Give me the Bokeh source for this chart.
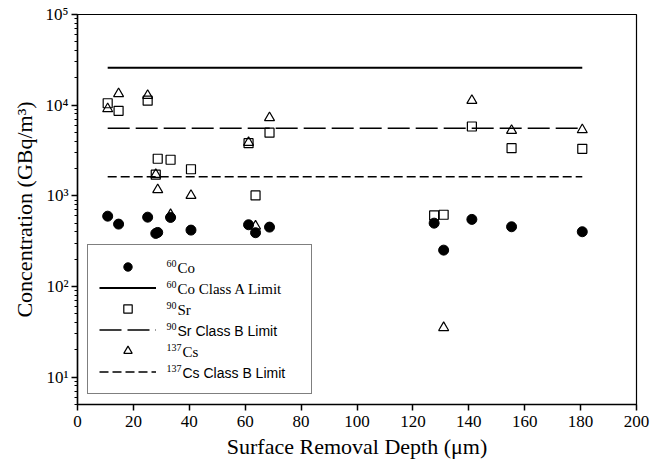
from bokeh.plotting import figure
from bokeh.models import (Range1d, FixedTicker, CustomJSTickFormatter, Legend, LegendItem, Label)
from bokeh.embed import file_html
from bokeh.resources import INLINE

# ---- data ----
co_depth = [10.8, 14.7, 25.1, 28.0, 28.7, 33.3, 40.6, 61.2, 63.7, 68.7, 127.6, 131.0, 141.1, 155.3, 180.6]
co_conc = [597, 488, 582, 385, 395, 578, 419, 480, 392, 452, 500, 252, 550, 456, 402]

sr_depth = [10.8, 14.7, 25.1, 28.0, 28.7, 33.3, 40.6, 61.2, 63.7, 68.7, 127.6, 131.0, 141.1, 155.3, 180.6]
sr_conc = [10500, 8670, 11200, 1710, 2565, 2500, 1966, 3810, 1010, 4970, 608, 619, 5820, 3360, 3300]

cs_depth = [10.8, 14.7, 25.1, 28.0, 28.7, 33.3, 40.6, 61.2, 63.7, 68.7, 131.0, 141.1, 155.3, 180.6]
cs_conc = [9120, 13370, 12800, 1722, 1167, 620, 1010, 3880, 463, 7260, 35.2, 11270, 5260, 5350]

co_class_a_limit = 25900
sr_class_b_limit = 5550
cs_class_b_limit = 1628

x_ticks = [0, 20, 40, 60, 80, 100, 120, 140, 160, 180, 200]
y_major = [10, 100, 1000, 10000, 100000]

# legend texts: (mass number, rest of label, font)
legend_texts = [
    ("60", "Co", "serif"),
    ("60", "Co Class A Limit", "serif"),
    ("90", "Sr", "serif"),
    ("90", "Sr Class B Limit", "sans"),
    ("137", "Cs", "serif"),
    ("137", "Cs Class B Limit", "sans"),
]

all_depth = co_depth + sr_depth + cs_depth
limit_x = [min(all_depth), max(all_depth)]

SERIF = "Liberation Serif"
SANS = "Liberation Sans"

p = figure(x_axis_type="linear", y_axis_type="log",
           x_range=Range1d(0, 200), y_range=Range1d(5, 1e5),
           frame_width=559, frame_height=390,
           min_border_left=77, min_border_right=16, min_border_top=14, min_border_bottom=56,
           output_backend="svg", toolbar_location=None)
p.xgrid.visible = False
p.ygrid.visible = False
p.outline_line_color = "black"
p.outline_line_width = 1.2
p.background_fill_color = "white"
p.border_fill_color = "white"

# axes
p.xaxis.ticker = FixedTicker(ticks=x_ticks)
minor = [m * 10 ** e for e in range(0, 5) for m in range(2, 10) if 5 <= m * 10 ** e <= 1e5]
p.yaxis.ticker = FixedTicker(ticks=y_major, minor_ticks=minor)
p.yaxis.formatter = CustomJSTickFormatter(code="""
const sup = {"-":"\u207b","0":"\u2070","1":"\u00b9","2":"\u00b2","3":"\u00b3","4":"\u2074","5":"\u2075","6":"\u2076","7":"\u2077","8":"\u2078","9":"\u2079"};
const e = Math.round(Math.log10(tick));
return "10" + String(e).split("").map(c => sup[c]).join("");
""")
for ax in (p.xaxis[0], p.yaxis[0]):
    ax.axis_line_color = "black"
    ax.axis_line_width = 1.5
    ax.major_tick_line_color = "black"
    ax.major_tick_line_width = 1.5
    ax.minor_tick_line_color = "black"
    ax.major_tick_in = 0
    ax.major_tick_out = 6
    ax.minor_tick_in = 0
    ax.minor_tick_out = 3
    ax.major_label_text_font = SERIF
    ax.major_label_text_font_size = "17px"
    ax.major_label_text_color = "black"
    ax.axis_label_text_font = SERIF
    ax.axis_label_text_font_size = "22px"
    ax.axis_label_text_font_style = "normal"
    ax.axis_label_text_color = "black"
p.xaxis.major_label_standoff = 5
p.yaxis.major_label_standoff = 3
p.xaxis.axis_label_standoff = 4
p.yaxis.axis_label_standoff = 6
p.xaxis.axis_label = "Surface Removal Depth (\u03bcm)"
p.yaxis.axis_label = "Concentration (GBq/m\u00b3)"

# limit lines
r_coA = p.line(limit_x, [co_class_a_limit] * 2, line_color="black", line_width=2)
r_srB = p.line(limit_x, [sr_class_b_limit] * 2, line_color="black", line_width=1.5, line_dash="22 6")
r_csB = p.line(limit_x, [cs_class_b_limit] * 2, line_color="black", line_width=1.5, line_dash="9 4")

# data points
r_sr = p.scatter(sr_depth, sr_conc, marker="square", size=9, line_color="black", line_width=1.2, fill_alpha=0)
r_cs = p.scatter(cs_depth, cs_conc, marker="triangle", size=10, line_color="black", line_width=1.2, fill_alpha=0)
r_co = p.scatter(co_depth, co_conc, marker="circle", size=10, line_color="black", fill_color="black")

# legend (glyphs); labels drawn separately so the mass numbers can be superscripts
MARGIN, PAD, SPACING, GH, GW = 10, 11, 0, 21, 57
leg = Legend(items=[LegendItem(label=" ", renderers=[r]) for r in (r_co, r_coA, r_sr, r_srB, r_cs, r_csB)],
             location="bottom_left", margin=MARGIN, padding=PAD, spacing=SPACING,
             glyph_width=GW, glyph_height=GH, label_height=GH,
             label_standoff=12, label_width=132,
             border_line_color="black", border_line_width=1.2,
             background_fill_alpha=0.0,
             label_text_font=SERIF, label_text_font_size="15px")
p.add_layout(leg)

n = len(legend_texts)
text_x = MARGIN + PAD + GW + 12 - 1  # frame-relative screen x where label text starts
for i, (mass, rest, fam) in enumerate(legend_texts):
    yc = MARGIN + PAD + GH / 2 + (n - 1 - i) * (GH + SPACING)
    p.add_layout(Label(x=text_x, y=yc + 5, x_units="screen", y_units="screen", text=mass,
                       text_font=SERIF, text_font_size="10px", text_baseline="middle",
                       text_color="black", level="overlay"))
    sup_w = 5 * len(mass) + 1
    if fam == "serif":
        p.add_layout(Label(x=text_x + sup_w, y=yc, x_units="screen", y_units="screen", text=rest,
                           text_font=SERIF, text_font_size="15px", text_baseline="middle",
                           text_color="black", level="overlay"))
    else:
        p.add_layout(Label(x=text_x + sup_w, y=yc, x_units="screen", y_units="screen", text=rest,
                           text_font=SANS, text_font_size="14px", text_baseline="middle",
                           text_color="black", level="overlay"))

open("out.html", "w").write(file_html(p, INLINE))
